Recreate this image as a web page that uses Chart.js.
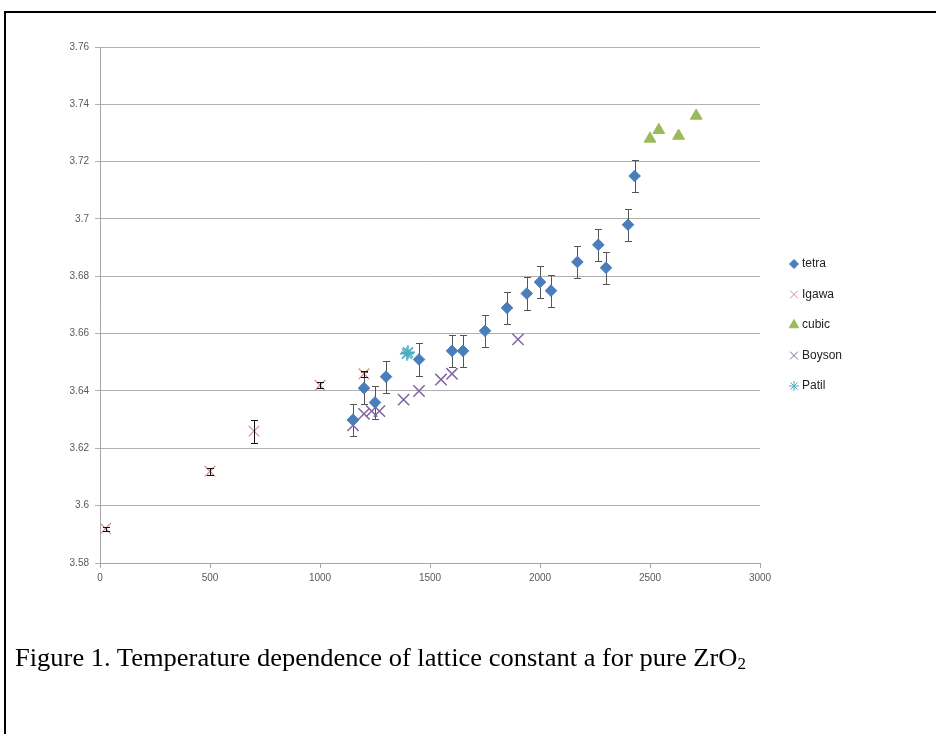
<!DOCTYPE html>
<html><head><meta charset="utf-8">
<script src="https://cdn.jsdelivr.net/npm/chart.js@4.4.0/dist/chart.umd.min.js"></script>
<style>
html,body{margin:0;padding:0;background:#fff;width:936px;height:734px;overflow:hidden;}
#frame{position:absolute;left:4px;top:11px;width:980px;height:780px;border:2px solid #000;box-sizing:border-box;}
#wrap{position:absolute;left:0;top:0;width:936px;height:734px;}
#cap{position:absolute;left:15px;top:643px;font-family:'Liberation Serif','Times New Roman',serif;font-size:26.5px;color:#000;white-space:nowrap;transform:scaleY(0.95);transform-origin:left top;}
#cap sub{font-size:17px;vertical-align:baseline;position:relative;top:3px;}
</style></head><body>
<div id="frame"></div>
<div id="wrap"><canvas id="c" width="936" height="734"></canvas></div>
<div id="cap">Figure 1. Temperature dependence of lattice constant a for pure ZrO<sub>2</sub></div>
<script>
// ---- data ----
const seriesNames = ['tetra','Igawa','cubic','Boyson','Patil'];
const tetraT   = [1150,1200,1250,1300,1450,1600,1650,1750,1850,1940,2000,2050,2170,2265,2300,2400,2430];
const tetraA   = [3.630,3.641,3.636,3.645,3.651,3.654,3.654,3.661,3.669,3.674,3.678,3.675,3.685,3.691,3.683,3.698,3.715];
const tetraErr = [0.0056,0.0056,0.0056,0.0056,0.0056,0.0057,0.0056,0.0056,0.0056,0.0056,0.0056,0.0056,0.0056,0.0056,0.0056,0.0056,0.0056];
const igawaT   = [25,500,700,1000,1200];
const igawaA   = [3.592,3.612,3.626,3.642,3.646];
const igawaErr = [0.0007,0.0012,0.004,0.001,0.001];
const cubicT   = [2500,2540,2630,2710];
const cubicA   = [3.728,3.731,3.729,3.736];
const boysonT  = [1150,1200,1235,1270,1380,1450,1550,1600,1900];
const boysonA  = [3.628,3.632,3.633,3.633,3.637,3.640,3.644,3.646,3.658];
const patilT   = [1395,1400];
const patilA   = [3.653,3.6535];
const xTickValues = [0,500,1000,1500,2000,2500,3000];
const xTickLabels = ['0','500','1000','1500','2000','2500','3000'];
const yTickValues = [3.58,3.60,3.62,3.64,3.66,3.68,3.70,3.72,3.74,3.76];
const yTickLabels = ['3.58','3.6','3.62','3.64','3.66','3.68','3.7','3.72','3.74','3.76'];

const pts = (xs, ys) => xs.map((x,i)=>({x:x, y:ys[i]}));

const styles = [
  {pointStyle:'rectRot', pointRadius:5.8, pointBackgroundColor:'#4A7EBB', pointBorderColor:'#4A7EBB', pointBorderWidth:1},
  {pointStyle:'crossRot', pointRadius:7.5, pointBackgroundColor:'#D98C8A', pointBorderColor:'#D98C8A', pointBorderWidth:1.2},
  {pointStyle:'triangle', pointRadius:6.8, pointBackgroundColor:'#9BBB59', pointBorderColor:'#9BBB59', pointBorderWidth:1},
  {pointStyle:'crossRot', pointRadius:8, pointBackgroundColor:'#8064A2', pointBorderColor:'#8064A2', pointBorderWidth:1.5},
  {pointStyle:'star', pointRadius:7, pointBackgroundColor:'#4BACC6', pointBorderColor:'#4BACC6', pointBorderWidth:1.5}
];
const legendStyles = [
  {pointStyle:'rectRot', radius:4.5},
  {pointStyle:'crossRot', radius:5.5},
  {pointStyle:'triangle', radius:5.5},
  {pointStyle:'crossRot', radius:5.5},
  {pointStyle:'star', radius:5}
];

const dataSets = [pts(tetraT,tetraA), pts(igawaT,igawaA), pts(cubicT,cubicA), pts(boysonT,boysonA), pts(patilT,patilA)];

function drawErr(chart, di, errs, color){
  const ds = chart.data.datasets[di];
  const xs = chart.scales.x, ys = chart.scales.y, ctx = chart.ctx;
  ctx.save();
  ctx.strokeStyle = color; ctx.lineWidth = 1;
  ds.data.forEach((p,i)=>{
    const px = Math.round(xs.getPixelForValue(p.x)) + 0.5;
    const y1 = Math.round(ys.getPixelForValue(p.y + errs[i])) + 0.5;
    const y2 = Math.round(ys.getPixelForValue(p.y - errs[i])) + 0.5;
    ctx.beginPath();
    ctx.moveTo(px, y1); ctx.lineTo(px, y2);
    ctx.moveTo(px-3.5, y1); ctx.lineTo(px+3.5, y1);
    ctx.moveTo(px-3.5, y2); ctx.lineTo(px+3.5, y2);
    ctx.stroke();
  });
  ctx.restore();
}

const errPlugin = {
  id:'errbars',
  beforeDatasetsDraw(chart){ drawErr(chart, 0, tetraErr, '#555555'); },
  afterDatasetsDraw(chart){ drawErr(chart, 1, igawaErr, '#111111'); }
};

const legendPlugin = {
  id:'customLegend',
  afterDraw(chart){
    const ctx = chart.ctx;
    ctx.save();
    ctx.font = '12px "Liberation Sans", Arial, sans-serif';
    ctx.textBaseline = 'middle';
    seriesNames.forEach((n,i)=>{
      const y = 264 + 30.5*i;
      const s = styles[i];
      ctx.fillStyle = s.pointBackgroundColor;
      ctx.strokeStyle = s.pointBorderColor;
      ctx.lineWidth = 1;
      Chart.helpers.drawPoint(ctx, {pointStyle: legendStyles[i].pointStyle, radius: legendStyles[i].radius, rotation:0, borderWidth:1}, 794, y);
      ctx.fillStyle = '#222';
      ctx.fillText(n, 802, y);
    });
    ctx.restore();
  }
};

const tickFont = {family:'"Liberation Sans Narrow","Arial Narrow","Liberation Sans",sans-serif', size:10};

new Chart(document.getElementById('c'), {
  type:'scatter',
  data:{
    datasets: dataSets.map((d,i)=>Object.assign({label: seriesNames[i], data:d, showLine:false}, styles[i]))
  },
  options:{
    responsive:false, animation:false, devicePixelRatio:1,
    layout:{padding:{left:0, top:47, right:176, bottom:0}},
    plugins:{legend:{display:false}, tooltip:{enabled:false}},
    scales:{
      x:{
        type:'linear', min:0, max:3000,
        afterBuildTicks(s){ s.ticks = xTickValues.map(v=>({value:v})); },
        ticks:{ font:tickFont, color:'#595959', padding:4, maxRotation:0,
          callback:(v,i)=>xTickLabels[i] },
        grid:{ drawOnChartArea:false, drawTicks:true, tickLength:5, color:'#a6a6a6' },
        border:{ color:'#a6a6a6' },
        afterFit(s){ s.height = 171; }
      },
      y:{
        type:'linear', min:3.58, max:3.76,
        afterBuildTicks(s){ s.ticks = yTickValues.map(v=>({value:v})); },
        ticks:{ font:tickFont, color:'#595959', padding:6,
          callback:(v,i)=>yTickLabels[i] },
        grid:{ color:'#b0b0b0', drawTicks:true, tickLength:5 },
        border:{ color:'#a6a6a6' },
        afterFit(s){ s.width = 100; }
      }
    }
  },
  plugins:[errPlugin, legendPlugin]
});
</script>
</body></html>
